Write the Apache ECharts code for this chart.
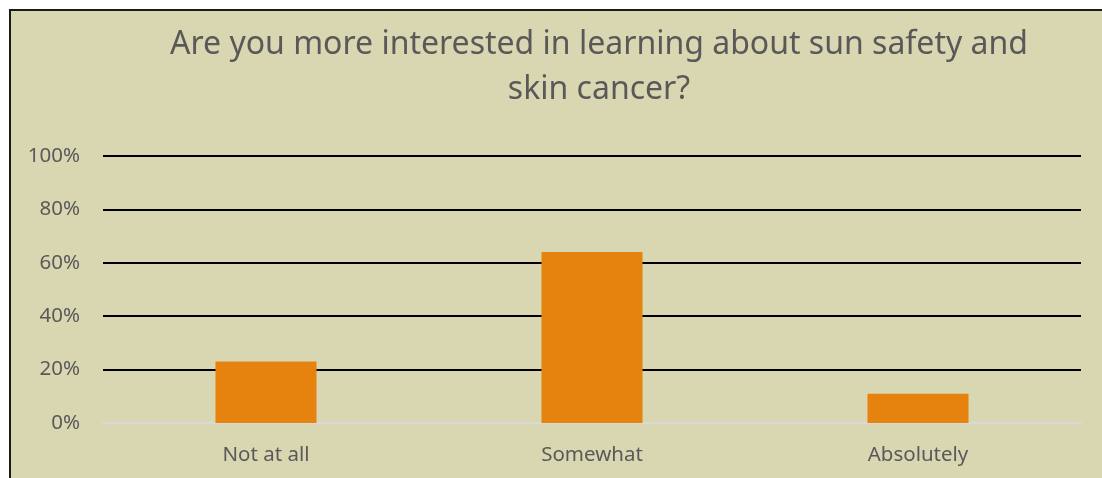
<!DOCTYPE html>
<html>
<head>
<meta charset="utf-8">
<script src="https://cdn.jsdelivr.net/npm/echarts@6/dist/echarts.min.js"></script>
<style>
html,body{margin:0;padding:0;background:#ffffff;}
#chart{width:1102px;height:478px;}
</style>
</head>
<body>
<div id="chart"></div>
<script>
var titleText = 'Are you more interested in learning about sun safety and\nskin cancer?';
var categories = ['Not at all', 'Somewhat', 'Absolutely'];
var values = [23, 64, 11];
var yTicks = [0, 20, 40, 60, 80, 100];

var chart = echarts.init(document.getElementById('chart'));
chart.setOption({
  animation: false,
  backgroundColor: '#ffffff',
  graphic: [{
    type: 'rect',
    z: -10,
    silent: true,
    shape: {x: 10, y: 10, width: 1100, height: 480},
    style: {fill: '#D9D7B2', stroke: '#1a1a1a', lineWidth: 2}
  }],
  title: {
    text: titleText,
    left: 594,
    top: 17,
    textAlign: 'center',
    textStyle: {
      fontFamily: 'Noto Sans',
      fontSize: 32,
      fontWeight: 'normal',
      color: '#595959',
      lineHeight: 45
    }
  },
  grid: {left: 103, right: 21, top: 156, bottom: 55, containLabel: false},
  xAxis: {
    type: 'category',
    data: categories,
    axisLine: {show: true, lineStyle: {color: '#D9D9D9', width: 2}},
    axisTick: {show: false},
    axisLabel: {color: '#595959', fontSize: 20.5, fontFamily: 'Noto Sans', margin: 22}
  },
  yAxis: {
    type: 'value',
    min: 0,
    max: 100,
    interval: 20,
    axisLine: {show: false},
    axisTick: {show: false},
    splitLine: {lineStyle: {color: '#000000', width: 2}},
    axisLabel: {
      color: '#595959', fontSize: 20.5, fontFamily: 'Noto Sans', margin: 23,
      formatter: function (v) { return yTicks.indexOf(v) >= 0 ? v + '%' : ''; }
    }
  },
  series: [{
    type: 'bar',
    data: values,
    barWidth: '31%',
    itemStyle: {color: '#E6830F'}
  }]
});
</script>
</body>
</html>
